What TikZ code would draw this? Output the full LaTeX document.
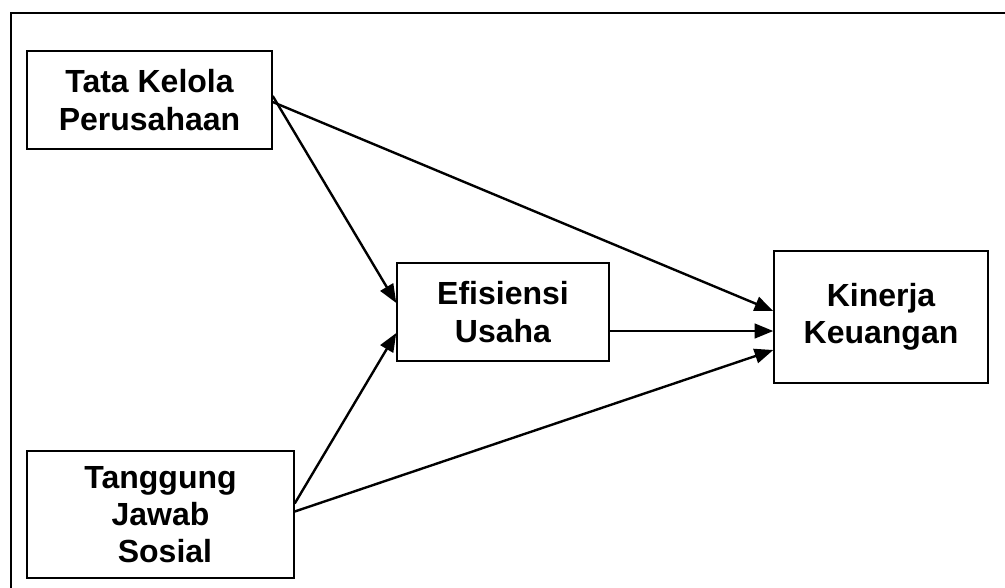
\documentclass[tikz,border=0pt]{standalone}
\usepackage{fontspec}
\setmainfont{Liberation Sans}
\usetikzlibrary{arrows.meta,calc}
\tikzset{
  boxnode/.style={draw=black, line width=1.1pt, fill=white, align=center, inner sep=0pt,
    font=\fontsize{24}{28}\selectfont\bfseries},
  conn/.style={line width=1.8pt, -{Triangle[length=14pt,width=11pt]}},
  framebox/.style={line width=1.3pt},
}
\begin{document}
\begin{tikzpicture}[x=0.75pt,y=-0.75pt]
\useasboundingbox (0,0) rectangle (1005,587);
\clip (0,0) rectangle (1005,587);
\fill[white] (0,0) rectangle (1005,587);
\draw[framebox] (11,13) rectangle (1100,700);
\node[boxnode, minimum width=245*0.75pt, minimum height=98*0.75pt] (tk) at (149.5,100) {Tata Kelola\\Perusahaan};
\node[boxnode, minimum width=267*0.75pt, minimum height=127*0.75pt] (tj) at (160.5,514.5) {Tanggung\\Jawab\\\ Sosial};
\node[boxnode, minimum width=212*0.75pt, minimum height=98*0.75pt] (ef) at (503,312) {Efisiensi\\Usaha};
\node[boxnode, minimum width=214*0.75pt, minimum height=132*0.75pt] (kk) at (881,317) {Kinerja\\Keuangan};
\draw[conn] ($(tk.east)+(0,-4)$) -- ($(ef.west)+(0,-9)$);
\draw[conn] ($(tk.east)+(0,2)$) -- ($(kk.west)+(0,-6)$);
\draw[conn] ($(ef.east)+(0,19)$) -- ($(kk.west)+(0,14)$);
\draw[conn] ($(tj.east)+(0,-11)$) -- ($(ef.west)+(0,21)$);
\draw[conn] ($(tj.east)+(0,-3)$) -- ($(kk.west)+(0,33)$);
\end{tikzpicture}
\end{document}
